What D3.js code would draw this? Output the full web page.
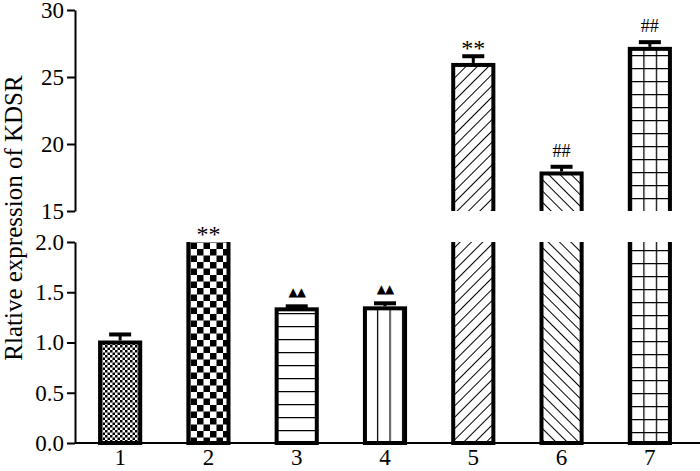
<!DOCTYPE html>
<html>
<head>
<meta charset="utf-8">
<script src="https://cdn.jsdelivr.net/npm/d3@7"></script>
<style>
  body { margin: 0; background: #fff; }
  svg { display: block; }
  text { font-family: "Liberation Serif", "Times New Roman", serif; fill: #000; }
  .axis path, .axis line { stroke: #000; stroke-width: 2; }
  .axis text { font-size: 23px; font-family: "Liberation Serif", "Times New Roman", serif; }
</style>
</head>
<body>
<svg id="chart" width="700" height="471"></svg>
<script>
// data
var groups = ["1", "2", "3", "4", "5", "6", "7"];
var values = [1.0, 2.02, 1.33, 1.34, 25.9, 17.8, 27.1];
var errors = [0.08, 0, 0.03, 0.05, 0.65, 0.5, 0.5];
var marks = ["", "**", "\u25B2\u25B2", "\u25B2\u25B2", "**", "##", "##"];
var fills = ["fine", "checker", "hlines", "vlines", "diag", "anti", "grid"];
var lowTicks = [0, 0.5, 1.0, 1.5, 2.0];
var highTicks = [15, 20, 25, 30];

var svg = d3.select("#chart");
var left = 75, right = 700, base = 443;

var x = d3.scaleBand().domain(groups).range([76, 694]).paddingInner(0.5).paddingOuter(0.25);
var yLow = d3.scaleLinear().domain([0, 2]).range([base, 242]);
var yHigh = d3.scaleLinear().domain([15, 30]).range([211, 10]);

//Patterns
var defs = svg.append("defs");
function pat(id, w, h){
  return defs.append("pattern").attr("id", id).attr("patternUnits", "userSpaceOnUse")
    .attr("width", w).attr("height", h);
}
var p = pat("fine", 5, 5);
p.append("rect").attr("width", 5).attr("height", 5).attr("fill", "#fff");
p.append("rect").attr("width", 2.5).attr("height", 2.5).attr("fill", "#000");
p.append("rect").attr("x", 2.5).attr("y", 2.5).attr("width", 2.5).attr("height", 2.5).attr("fill", "#000");

p = pat("checker", 13, 13).attr("x", 2).attr("y", 2);
p.append("rect").attr("width", 13).attr("height", 13).attr("fill", "#fff");
p.append("rect").attr("width", 6.5).attr("height", 6.5).attr("fill", "#000");
p.append("rect").attr("x", 6.5).attr("y", 6.5).attr("width", 6.5).attr("height", 6.5).attr("fill", "#000");

p = pat("hlines", 10, 13).attr("y", 1);
p.append("rect").attr("width", 10).attr("height", 13).attr("fill", "#fff");
p.append("line").attr("x1", 0).attr("x2", 10).attr("y1", 0.5).attr("y2", 0.5).attr("stroke", "#000").attr("stroke-width", 1.5);

p = pat("vlines", 12.5, 10).attr("x", x("4") + 1.5);
p.append("rect").attr("width", 12.5).attr("height", 10).attr("fill", "#fff");
p.append("line").attr("x1", 0.5).attr("x2", 0.5).attr("y1", 0).attr("y2", 10).attr("stroke", "#000").attr("stroke-width", 1.5);

p = pat("diag", 8, 8).attr("patternTransform", "rotate(45)");
p.append("rect").attr("width", 8).attr("height", 8).attr("fill", "#fff");
p.append("line").attr("x1", 0).attr("x2", 0).attr("y1", 0).attr("y2", 8).attr("stroke", "#000").attr("stroke-width", 2);

p = pat("anti", 8, 8).attr("patternTransform", "rotate(-45)");
p.append("rect").attr("width", 8).attr("height", 8).attr("fill", "#fff");
p.append("line").attr("x1", 0).attr("x2", 0).attr("y1", 0).attr("y2", 8).attr("stroke", "#000").attr("stroke-width", 2);

p = pat("grid", 12.5, 13).attr("x", x("7") + 3).attr("y", 3);
p.append("rect").attr("width", 12.5).attr("height", 13).attr("fill", "#fff");
p.append("line").attr("x1", 0.5).attr("x2", 0.5).attr("y1", 0).attr("y2", 13).attr("stroke", "#000").attr("stroke-width", 1.5);
p.append("line").attr("x1", 0).attr("x2", 12.5).attr("y1", 0.5).attr("y2", 0.5).attr("stroke", "#000").attr("stroke-width", 1.5);

//Clip regions for the two panels
defs.append("clipPath").attr("id", "clipLow").append("rect")
  .attr("x", left).attr("y", yLow(2)).attr("width", right - left).attr("height", base - yLow(2) + 4);
defs.append("clipPath").attr("id", "clipHigh").append("rect")
  .attr("x", left).attr("y", 0).attr("width", right - left).attr("height", yHigh(15));

var bw = x.bandwidth();

//Lower panel bars
var low = svg.append("g").attr("clip-path", "url(#clipLow)");
low.selectAll("rect").data(groups).enter().append("rect")
  .attr("x", function(d){ return x(d) + 2; })
  .attr("y", function(d, i){ return Math.max(yLow(values[i]), 200); })
  .attr("width", bw - 4)
  .attr("height", function(d, i){ return base - Math.max(yLow(values[i]), 200); })
  .attr("fill", function(d, i){ return "url(#" + fills[i] + ")"; })
  .attr("stroke", "#000").attr("stroke-width", 4);

//Upper panel bars
var high = svg.append("g").attr("clip-path", "url(#clipHigh)");
var tall = groups.filter(function(d, i){ return values[i] > 15; });
high.selectAll("rect").data(tall).enter().append("rect")
  .attr("x", function(d){ return x(d) + 2; })
  .attr("y", function(d){ return yHigh(values[groups.indexOf(d)]); })
  .attr("width", bw - 4)
  .attr("height", function(d){ return yHigh(14) - yHigh(values[groups.indexOf(d)]); })
  .attr("fill", function(d){ return "url(#" + fills[groups.indexOf(d)] + ")"; })
  .attr("stroke", "#000").attr("stroke-width", 4);

//Error bars
groups.forEach(function(d, i){
  if(!errors[i]) return;
  var y = values[i] > 15 ? yHigh : yLow;
  var cx = x(d) + bw / 2;
  svg.append("line").attr("x1", cx).attr("x2", cx)
    .attr("y1", y(values[i]) - 2).attr("y2", y(values[i] + errors[i]))
    .attr("stroke", "#000").attr("stroke-width", 3);
  svg.append("line").attr("x1", cx - 11).attr("x2", cx + 11)
    .attr("y1", y(values[i] + errors[i])).attr("y2", y(values[i] + errors[i]))
    .attr("stroke", "#000").attr("stroke-width", 4);
});

//Significance marks
groups.forEach(function(d, i){
  if(!marks[i]) return;
  var y = values[i] > 15 ? yHigh : yLow;
  var top = y(Math.min(values[i] + errors[i], values[i] > 15 ? 30 : 2));
  var tri = marks[i].charAt(0) == "\u25B2";
  var hash = marks[i] == "##";
  svg.append("text")
    .attr("x", x(d) + bw / 2)
    .attr("y", top - (tri ? 10 : (hash ? 10 : 0)))
    .attr("text-anchor", "middle")
    .style("font-family", tri ? "DejaVu Sans" : null)
    .style("font-size", tri ? "12px" : (hash ? "18px" : "24px"))
    .style("letter-spacing", tri ? "-1px" : "0px")
    .text(marks[i]);
});

//Axes
svg.append("g").attr("class", "axis")
  .attr("transform", "translate(" + left + ",0)")
  .call(d3.axisLeft(yHigh).tickValues(highTicks).tickSize(8).tickPadding(3).tickSizeOuter(0));
svg.append("g").attr("class", "axis")
  .attr("transform", "translate(" + left + ",0)")
  .call(d3.axisLeft(yLow).tickValues(lowTicks).tickSize(8).tickPadding(3).tickSizeOuter(0).tickFormat(d3.format(".1f")));

var xAxis = svg.append("g").attr("class", "axis")
  .attr("transform", "translate(0," + base + ")")
  .call(d3.axisBottom(x).tickSize(0).tickPadding(6));
xAxis.select(".domain").attr("d", "M" + left + ",0H" + right);
xAxis.selectAll("text").style("font-size", "23px");
svg.selectAll(".axis").attr("font-family", null);

//Y axis label
svg.append("text")
  .attr("transform", "translate(22,218) rotate(-90)")
  .attr("text-anchor", "middle")
  .style("font-size", "25px")
  .text("Rlative expression of KDSR");
</script>
</body>
</html>
